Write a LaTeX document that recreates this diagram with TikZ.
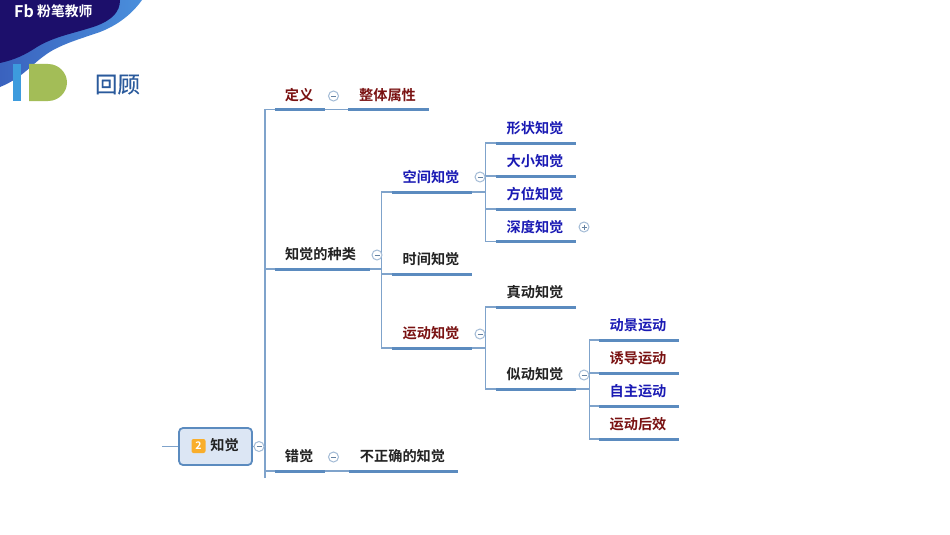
\documentclass[tikz,border=0pt]{standalone}
\usepackage{fontspec}
\setmainfont{Noto Sans CJK SC}[BoldFont={Noto Sans CJK SC Bold}]
\newfontfamily\titlefont{Noto Sans CJK SC}[FakeBold=0.4]
\definecolor{barblue}{HTML}{5B8BBF}
\definecolor{linkblue}{HTML}{7FA3CB}
\definecolor{ringblue}{HTML}{A3BBD6}
\definecolor{redtxt}{HTML}{7A1212}
\definecolor{bluetxt}{HTML}{1A1AB4}
\definecolor{blacktxt}{HTML}{222222}
\definecolor{navy}{HTML}{1C0F6B}
\definecolor{midblue}{HTML}{3A62BE}
\definecolor{brightblue}{HTML}{4A8FDC}
\definecolor{skybar}{HTML}{3D9BDD}
\definecolor{greenD}{HTML}{A3BD57}
\definecolor{titleblue}{HTML}{2A5A9C}
\definecolor{rootfill}{HTML}{DCE6F4}
\definecolor{badgeorange}{HTML}{F9AE2B}
\tikzset{
  x=1pt,y=-1pt,
  topic/.style={anchor=south,minimum height=29pt,inner sep=0pt,font=\fontsize{14.2}{15}\selectfont\bfseries,
    execute at begin node={\kern-2pt},
    append after command={(\tikzlastnode.south west) edge[bar] (\tikzlastnode.south east)}},
  bar/.style={draw=barblue,line width=3pt},
  link/.style={draw=linkblue,line width=1.3pt},
  wide50/.style={minimum width=50pt},
  wide80/.style={minimum width=80pt},
  wide95/.style={minimum width=95pt},
  wide109/.style={minimum width=109pt},
  r/.style={text=redtxt},
  b/.style={text=bluetxt},
  k/.style={text=blacktxt},
  toggle/.style={circle,draw=ringblue,fill=white,line width=1pt,minimum size=10pt,inner sep=0pt},
  collapse/.style={toggle,path picture={\draw[linkblue!80!black,line width=.8pt] (path picture bounding box.center) ++(-2.5,0) -- ++(5,0);}},
  expand/.style={toggle,path picture={\draw[linkblue!80!black,line width=.8pt] (path picture bounding box.center) ++(-2.5,0) -- ++(5,0) ++(-2.5,-2.5) -- ++(0,5);}},
}
\begin{document}
\begin{tikzpicture}
\useasboundingbox (0,0) rectangle (950,535);
\fill[white] (0,0) rectangle (950,535);
% header band
\shade[left color=midblue,right color=brightblue]
  (0,0) -- (142,0) .. controls (132,14) and (118,25) .. (100,32)
  .. controls (80,39) and (58,45) .. (44,56)
  .. controls (30,66) and (22,78) .. (0,87) -- cycle;
\fill[navy] (0,0) -- (120,0) .. controls (120,12) and (112,20) .. (96,26)
  .. controls (76,33) and (55,36) .. (37,47)
  .. controls (25,55) and (14,60) .. (0,63) -- cycle;
\node[text=white,font=\fontsize{16}{16}\selectfont\bfseries,anchor=west,inner sep=0pt] (brandA) at (14,11) {Fb};
\node[text=white,font=\fontsize{13.8}{15}\selectfont\bfseries,anchor=west,inner sep=0pt] (brandB) at (37,11) {粉笔教师};
% ID mark
\fill[skybar] (13,64) rectangle (21,101);
\fill[greenD] (29,64) -- (48,64) .. controls (59,64) and (67,73) .. (67,82.5)
  .. controls (67,92) and (59,101) .. (48,101) -- (29,101) -- cycle;
\node[text=titleblue,font=\titlefont\fontsize{22.5}{24}\selectfont,inner sep=0pt] (title) at (117.5,84.5) {回顾};
% root
\node[draw=barblue,fill=rootfill,line width=1.8pt,rounded corners=4pt,minimum width=73pt,minimum height=37pt,inner sep=0pt] (root) at (215.5,446.5) {};
\node[fill=badgeorange,rounded corners=2pt,text=white,font=\fontsize{10.5}{10}\selectfont\bfseries,minimum size=14pt,inner sep=0pt] (badge) at (198.5,446) {2};
\node[text=blacktxt,font=\fontsize{14.2}{15}\selectfont\bfseries,inner sep=0pt] (rootlabel) at (224.5,445.5) {知觉};
\coordinate (stub) at (162,446.5);
\coordinate (spinetop) at (265,109.5);
\coordinate (spinebot) at (265,478);
% topics
\node[topic,wide50,r] (def) at (300,109.5) {定义};
\node[topic,wide80,r] (whole) at (388.5,109.5) {整体属性};
\node[topic,wide95,k] (kinds) at (322.5,269) {\kern-2pt 知觉的种类};
\node[topic,wide50,k] (illusion) at (300,471) {错觉};
\node[topic,wide109,k] (wrong) at (403.5,471) {不正确的知觉};
\node[topic,wide80,b] (space) at (432,192) {空间知觉};
\node[topic,wide80,k] (time) at (432,274) {时间知觉};
\node[topic,wide80,r] (motion) at (432,348) {运动知觉};
\node[topic,wide80,b] (shape) at (536,143) {形状知觉};
\node[topic,wide80,b] (size) at (536,176) {大小知觉};
\node[topic,wide80,b] (orient) at (536,209) {方位知觉};
\node[topic,wide80,b] (depth) at (536,241.5) {深度知觉};
\node[topic,wide80,k] (real) at (536,307) {真动知觉};
\node[topic,wide80,k] (appar) at (536,389) {似动知觉};
\node[topic,wide80,b] (stro) at (639,340) {动景运动};
\node[topic,wide80,r] (induced) at (639,373) {诱导运动};
\node[topic,wide80,b] (auto) at (639,406) {自主运动};
\node[topic,wide80,r] (after) at (639,439) {运动后效};
% connectors
\draw[link] (stub) -- (root.west);
\draw[link] (root.east) -- (root.east -| spinetop);
\draw[link] (spinebot) -- (spinetop) -- (def.south west);
\draw[link] (kinds.south west) -- (kinds.south west -| spinetop);
\draw[link] (illusion.south west) -- (illusion.south west -| spinetop);
\draw[link] (def.south east) -- (whole.south west);
\draw[link] (illusion.south east) -- (wrong.south west);
\draw[link] (kinds.south east) -- ++(11,0) coordinate (e2);
\draw[link] (space.south west) -| (e2) |- (motion.south west);
\draw[link] (e2 |- time.south west) -- (time.south west);
\draw[link] (space.south east) -- ++(13,0) coordinate (e3);
\draw[link] (shape.south west) -| (e3) |- (depth.south west);
\draw[link] (e3 |- size.south west) -- (size.south west);
\draw[link] (e3 |- orient.south west) -- (orient.south west);
\draw[link] (motion.south east) -- ++(13,0) coordinate (e4);
\draw[link] (real.south west) -| (e4) |- (appar.south west);
\draw[link] (appar.south east) -- ++(13,0) coordinate (e5);
\draw[link] (stro.south west) -| (e5) |- (after.south west);
\draw[link] (e5 |- induced.south west) -- (induced.south west);
\draw[link] (e5 |- auto.south west) -- (auto.south west);
% toggles
\node[collapse] (t1) at (333.5,96) {};
\node[collapse] (t2) at (377,255) {};
\node[collapse] (t3) at (480,177) {};
\node[expand] (t4) at (584,227) {};
\node[collapse] (t5) at (480,334) {};
\node[collapse] (t6) at (584,375) {};
\node[collapse] (t7) at (333.5,457) {};
\node[collapse] (t8) at (259,446.5) {};
\end{tikzpicture}
\end{document}
